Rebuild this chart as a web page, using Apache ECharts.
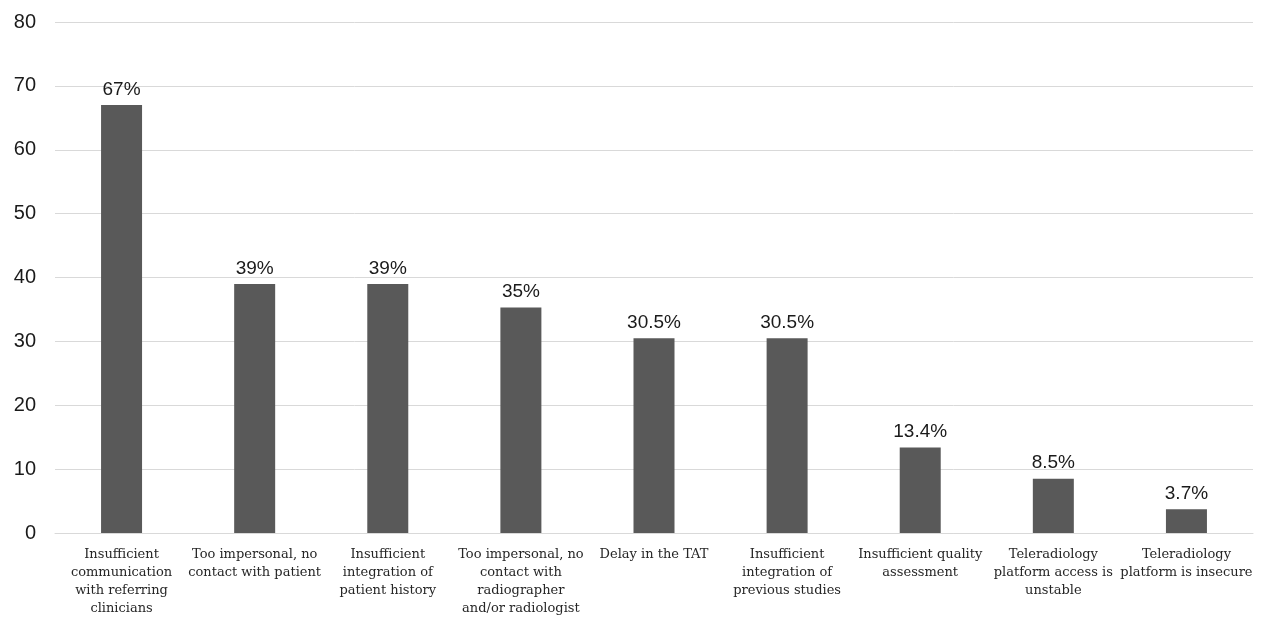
<!DOCTYPE html>
<html>
<head>
<meta charset="utf-8">
<script src="https://cdn.jsdelivr.net/npm/echarts@6/dist/echarts.min.js"></script>
<style>
html,body{margin:0;padding:0;background:#fff;}
#chart{width:1262px;height:617px;}
</style>
</head>
<body>
<div id="chart"></div>
<script>
const categories = [
  "Insufficient\ncommunication\nwith referring\nclinicians",
  "Too impersonal, no\ncontact with patient",
  "Insufficient\nintegration of\npatient history",
  "Too impersonal, no\ncontact with\nradiographer\nand/or radiologist",
  "Delay in the TAT",
  "Insufficient\nintegration of\nprevious studies",
  "Insufficient quality\nassessment",
  "Teleradiology\nplatform access is\nunstable",
  "Teleradiology\nplatform is insecure"
];
const values = [67, 39, 39, 35.3, 30.5, 30.5, 13.4, 8.5, 3.7];
const valueLabels = ["67%", "39%", "39%", "35%", "30.5%", "30.5%", "13.4%", "8.5%", "3.7%"];
const yTicks = [0, 10, 20, 30, 40, 50, 60, 70, 80];

const chart = echarts.init(document.getElementById('chart'), null, {renderer: 'canvas'});
chart.setOption({
  animation: false,
  backgroundColor: '#ffffff',
  grid: {left: 55, right: 9, top: 22, bottom: 84, containLabel: false, outerBoundsMode: 'none'},
  xAxis: {
    type: 'category',
    data: categories,
    axisTick: {show: false},
    axisLine: {show: true, lineStyle: {color: '#d9d9d9', width: 1}},
    axisLabel: {
      interval: 0,
      margin: 13,
      fontFamily: 'DejaVu Serif',
      fontSize: 13,
      lineHeight: 18,
      color: '#262626'
    }
  },
  yAxis: {
    type: 'value',
    min: yTicks[0],
    max: yTicks[yTicks.length - 1],
    interval: yTicks[1] - yTicks[0],
    axisLine: {show: false},
    axisTick: {show: false},
    splitLine: {lineStyle: {color: '#d9d9d9', width: 1}},
    axisLabel: {
      margin: 19,
      fontFamily: 'Liberation Sans',
      fontSize: 20,
      color: '#1a1a1a'
    }
  },
  series: [{
    type: 'bar',
    data: values,
    barWidth: 41,
    itemStyle: {color: '#595959'},
    label: {
      show: true,
      position: 'top',
      distance: 6,
      fontFamily: 'Liberation Sans',
      fontSize: 19,
      color: '#1a1a1a',
      formatter: p => valueLabels[p.dataIndex]
    }
  }]
});
</script>
</body>
</html>
